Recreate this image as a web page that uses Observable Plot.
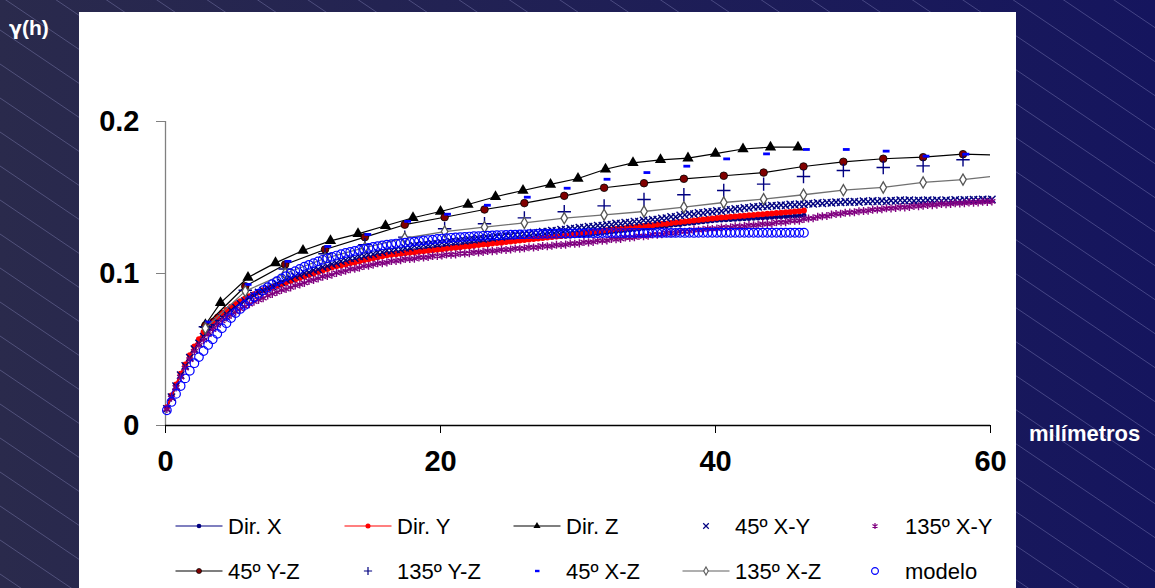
<!DOCTYPE html>
<html><head><meta charset="utf-8">
<script src="https://cdn.jsdelivr.net/npm/d3@7"></script>
<script src="https://cdn.jsdelivr.net/npm/@observablehq/plot@0.6"></script>
<style>
html,body{margin:0;padding:0;}
body{width:1155px;height:588px;overflow:hidden;position:relative;font-family:"Liberation Sans",Arial,sans-serif;
background: linear-gradient(to right, #2a2a4c, #15155e);}
#hatch{position:absolute;left:0;top:0;}
#panel{position:absolute;left:79px;top:12px;width:937px;height:576px;background:#fff;}
#chart{position:absolute;left:79px;top:12px;width:937px;}
.lab{position:absolute;color:#fff;font-weight:bold;line-height:1;white-space:nowrap;}
.leg{position:absolute;font-size:22px;color:#000;line-height:1;white-space:nowrap;}
.sw{position:absolute;}
</style></head><body>
<svg id="hatch" width="1155" height="588"></svg>
<div id="panel"></div>
<div id="chart"></div>
<div class="lab" style="left:9px;top:17px;font-size:21px;"><span style="font-family:'DejaVu Sans';font-size:19px;">γ</span>(h)</div>
<div class="lab" style="left:1029px;top:423px;font-size:22px;">milímetros</div>
<div id="legend"></div>
<script>
// ---- data ----
const lagStart = 0.1;      // first lag of the dense series (mm)
const lagStep = 1 / 3;     // lag spacing of the dense series (mm)

const dirX = [0.0110,0.0185,0.0258,0.0330,0.0392,0.0452,0.0510,0.0556,0.0600,0.0640,0.0671,0.0701,0.0730,0.0750,0.0770,0.0790,0.0810,0.0830,0.0850,0.0863,0.0877,0.0890,0.0903,0.0917,0.0930,0.0940,0.0950,0.0960,0.0970,0.0980,0.0990,0.1000,0.1010,0.1020,0.1030,0.1040,0.1050,0.1057,0.1063,0.1070,0.1077,0.1083,0.1090,0.1097,0.1103,0.1110,0.1117,0.1123,0.1130,0.1133,0.1137,0.1140,0.1143,0.1147,0.1150,0.1153,0.1157,0.1160,0.1163,0.1167,0.1170,0.1173,0.1177,0.1180,0.1183,0.1187,0.1190,0.1193,0.1197,0.1200,0.1203,0.1207,0.1210,0.1213,0.1217,0.1220,0.1222,0.1223,0.1225,0.1227,0.1228,0.1230,0.1233,0.1237,0.1240,0.1242,0.1243,0.1245,0.1247,0.1248,0.1250,0.1253,0.1257,0.1260,0.1263,0.1267,0.1270,0.1273,0.1277,0.1280,0.1283,0.1287,0.1290,0.1293,0.1297,0.1300,0.1303,0.1307,0.1310,0.1313,0.1317,0.1320,0.1323,0.1327,0.1330,0.1333,0.1337,0.1340,0.1343,0.1347,0.1350,0.1352,0.1353,0.1355,0.1357,0.1358,0.1360,0.1362,0.1363,0.1365,0.1367,0.1368,0.1370,0.1372,0.1373,0.1375,0.1377,0.1378,0.1380,0.1384];

const dirY = [0.0120,0.0197,0.0270,0.0340,0.0402,0.0462,0.0520,0.0568,0.0615,0.0660,0.0688,0.0715,0.0740,0.0760,0.0781,0.0800,0.0817,0.0834,0.0850,0.0864,0.0877,0.0890,0.0900,0.0910,0.0920,0.0930,0.0940,0.0950,0.0960,0.0970,0.0980,0.0990,0.1000,0.1010,0.1020,0.1030,0.1040,0.1047,0.1053,0.1060,0.1067,0.1073,0.1080,0.1087,0.1093,0.1100,0.1107,0.1113,0.1120,0.1123,0.1127,0.1130,0.1133,0.1137,0.1140,0.1143,0.1147,0.1150,0.1153,0.1157,0.1160,0.1163,0.1167,0.1170,0.1173,0.1177,0.1180,0.1183,0.1187,0.1190,0.1193,0.1197,0.1200,0.1203,0.1207,0.1210,0.1213,0.1217,0.1220,0.1223,0.1227,0.1230,0.1233,0.1237,0.1240,0.1243,0.1247,0.1250,0.1255,0.1260,0.1265,0.1268,0.1272,0.1275,0.1278,0.1282,0.1285,0.1288,0.1292,0.1295,0.1298,0.1302,0.1305,0.1308,0.1312,0.1315,0.1318,0.1322,0.1325,0.1328,0.1332,0.1335,0.1338,0.1342,0.1345,0.1348,0.1352,0.1355,0.1358,0.1362,0.1365,0.1368,0.1370,0.1373,0.1375,0.1378,0.1380,0.1383,0.1385,0.1388,0.1390,0.1393,0.1395,0.1398,0.1400,0.1403,0.1405,0.1408,0.1410,0.1414];

const xy45 = [0.0110,0.0187,0.0259,0.0331,0.0392,0.0447,0.0502,0.0540,0.0584,0.0618,0.0653,0.0680,0.0712,0.0733,0.0759,0.0778,0.0802,0.0819,0.0842,0.0855,0.0876,0.0888,0.0905,0.0915,0.0932,0.0942,0.0959,0.0968,0.0982,0.0989,0.1002,0.1008,0.1022,0.1028,0.1042,0.1048,0.1062,0.1068,0.1082,0.1088,0.1099,0.1101,0.1112,0.1115,0.1125,0.1128,0.1139,0.1141,0.1152,0.1151,0.1159,0.1158,0.1169,0.1171,0.1182,0.1181,0.1189,0.1188,0.1195,0.1195,0.1202,0.1201,0.1209,0.1208,0.1215,0.1215,0.1222,0.1221,0.1229,0.1228,0.1235,0.1235,0.1242,0.1241,0.1249,0.1248,0.1255,0.1255,0.1262,0.1261,0.1269,0.1268,0.1275,0.1275,0.1282,0.1281,0.1289,0.1288,0.1295,0.1295,0.1302,0.1301,0.1309,0.1308,0.1315,0.1315,0.1322,0.1321,0.1329,0.1328,0.1335,0.1335,0.1342,0.1341,0.1349,0.1348,0.1355,0.1355,0.1362,0.1364,0.1372,0.1373,0.1382,0.1385,0.1392,0.1391,0.1399,0.1398,0.1405,0.1405,0.1412,0.1411,0.1419,0.1418,0.1425,0.1425,0.1432,0.1431,0.1439,0.1438,0.1443,0.1442,0.1447,0.1445,0.1450,0.1448,0.1454,0.1452,0.1457,0.1455,0.1460,0.1458,0.1464,0.1462,0.1467,0.1465,0.1470,0.1468,0.1472,0.1469,0.1472,0.1470,0.1476,0.1473,0.1477,0.1474,0.1478,0.1475,0.1480,0.1478,0.1482,0.1479,0.1482,0.1478,0.1481,0.1479,0.1483,0.1480,0.1482,0.1478,0.1483,0.1480,0.1484,0.1481,0.1485,0.1482,0.1486,0.1484,0.1487,0.1485,0.1487];

const xy135 = [0.0108,0.0182,0.0251,0.0318,0.0378,0.0433,0.0488,0.0527,0.0562,0.0598,0.0631,0.0659,0.0688,0.0711,0.0728,0.0748,0.0768,0.0782,0.0798,0.0815,0.0826,0.0838,0.0855,0.0866,0.0878,0.0891,0.0898,0.0908,0.0921,0.0928,0.0938,0.0951,0.0958,0.0968,0.0979,0.0984,0.0992,0.1004,0.1010,0.1018,0.1029,0.1031,0.1038,0.1049,0.1051,0.1058,0.1067,0.1068,0.1073,0.1082,0.1083,0.1088,0.1096,0.1095,0.1098,0.1106,0.1105,0.1108,0.1116,0.1115,0.1118,0.1125,0.1123,0.1126,0.1133,0.1131,0.1134,0.1141,0.1139,0.1142,0.1149,0.1147,0.1150,0.1157,0.1155,0.1158,0.1165,0.1163,0.1166,0.1173,0.1171,0.1174,0.1181,0.1179,0.1182,0.1189,0.1187,0.1190,0.1197,0.1196,0.1198,0.1207,0.1205,0.1208,0.1217,0.1215,0.1218,0.1227,0.1225,0.1228,0.1237,0.1235,0.1238,0.1247,0.1245,0.1248,0.1257,0.1255,0.1258,0.1267,0.1265,0.1268,0.1277,0.1275,0.1278,0.1287,0.1285,0.1288,0.1295,0.1293,0.1296,0.1303,0.1301,0.1304,0.1311,0.1309,0.1312,0.1319,0.1317,0.1320,0.1327,0.1325,0.1328,0.1337,0.1337,0.1338,0.1347,0.1347,0.1348,0.1358,0.1362,0.1363,0.1373,0.1377,0.1378,0.1388,0.1392,0.1393,0.1400,0.1401,0.1403,0.1410,0.1411,0.1413,0.1420,0.1421,0.1423,0.1429,0.1428,0.1431,0.1436,0.1435,0.1438,0.1444,0.1443,0.1446,0.1451,0.1450,0.1453,0.1458,0.1456,0.1458,0.1463,0.1461,0.1463,0.1468,0.1466,0.1468,0.1473,0.1471,0.1474];

const modelo = [0.0100,0.0155,0.0208,0.0260,0.0310,0.0360,0.0410,0.0450,0.0490,0.0530,0.0567,0.0603,0.0640,0.0673,0.0707,0.0740,0.0767,0.0793,0.0820,0.0843,0.0867,0.0890,0.0910,0.0930,0.0950,0.0967,0.0983,0.1000,0.1015,0.1030,0.1045,0.1057,0.1068,0.1080,0.1090,0.1100,0.1110,0.1118,0.1127,0.1135,0.1142,0.1148,0.1155,0.1162,0.1168,0.1175,0.1180,0.1185,0.1190,0.1193,0.1197,0.1200,0.1203,0.1207,0.1210,0.1213,0.1217,0.1220,0.1223,0.1227,0.1230,0.1232,0.1235,0.1237,0.1239,0.1241,0.1243,0.1245,0.1246,0.1248,0.1249,0.1251,0.1252,0.1253,0.1254,0.1255,0.1256,0.1257,0.1258,0.1259,0.1259,0.1260,0.1261,0.1261,0.1262,0.1262,0.1263,0.1263,0.1263,0.1264,0.1264,0.1264,0.1265,0.1265,0.1265,0.1266,0.1266,0.1266,0.1266,0.1266,0.1266,0.1267,0.1267,0.1267,0.1267,0.1267,0.1267,0.1267,0.1267,0.1267,0.1267,0.1267,0.1268,0.1267,0.1268,0.1267,0.1268,0.1268,0.1268,0.1268,0.1268,0.1268,0.1268,0.1268,0.1268,0.1268,0.1268,0.1268,0.1268,0.1268,0.1268,0.1268,0.1268,0.1268,0.1268,0.1268,0.1268,0.1268,0.1268,0.1268];

// sparse series
const dirZLags = [2.9,4,6,8,10,12,14,16,18,20,22,24,26,28,30,32,34,36,38,40,42,44,46];
const dirZ = [0.0663,0.0807,0.0974,0.1070,0.1151,0.1215,0.1261,0.1314,0.1367,0.1408,0.1454,0.1505,0.1546,0.1586,0.1625,0.1686,0.1728,0.1748,0.1759,0.1789,0.1819,0.1831,0.1831];

const diagLags = [2.9,5.8,8.7,11.6,14.5,17.4,20.3,23.2,26.1,29.0,31.9,34.8,37.7,40.6,43.5,46.4,49.3,52.2,55.1,58.0,60.9];
const yz45 = [0.0658,0.0916,0.1059,0.1158,0.1239,0.1321,0.1370,0.1421,0.1463,0.1511,0.1564,0.1594,0.1623,0.1643,0.1664,0.1704,0.1735,0.1755,0.1765,0.1785,0.1779];
const yz135 = [0.0650,0.0890,0.1030,0.1130,0.1190,0.1239,0.1294,0.1327,0.1366,0.1406,0.1445,0.1487,0.1518,0.1546,0.1588,0.1638,0.1678,0.1697,0.1708,0.1748];
const xz45 = [0.0680,0.0928,0.1080,0.1178,0.1257,0.1343,0.1390,0.1449,0.1502,0.1561,0.1620,0.1664,0.1706,0.1754,0.1787,0.1816,0.1816,0.1805,0.1772,0.1785];
const xz135 = [0.0640,0.0884,0.1000,0.1100,0.1170,0.1232,0.1276,0.1305,0.1333,0.1364,0.1386,0.1408,0.1436,0.1467,0.1489,0.1518,0.1548,0.1566,0.1599,0.1618,0.1646];

const xTicks = [0, 20, 40, 60];
const yTicks = [0, 0.1, 0.2];

const seriesNames = ["Dir. X","Dir. Y","Dir. Z","45º X-Y","135º X-Y","45º Y-Z","135º Y-Z","45º X-Z","135º X-Z","modelo"];

// ---- background hatching (decoration) ----
(function () {
  const svg = d3.select("#hatch");
  const slope = 0.675, gap = 34;
  for (let c = -820; c < 600; c += gap) {
    svg.append("line").attr("x1", 0).attr("y1", c).attr("x2", 1155).attr("y2", c + slope * 1155)
      .attr("stroke", "#9a9ad0").attr("stroke-opacity", 0.45).attr("stroke-width", 0.8);
  }
})();

// ---- build tables ----
const dense = vals => vals.map((y, i) => ({x: lagStart + i * lagStep, y}));
const sparse = (xs, ys) => ys.map((y, i) => ({x: xs[i], y}));

const dX = dense(dirX), dY = dense(dirY), dXY45 = dense(xy45), dXY135 = dense(xy135), dM = dense(modelo);
const dZ = sparse(dirZLags, dirZ);
const dYZ45 = sparse(diagLags, yz45), dYZ135 = sparse(diagLags, yz135);
const dXZ45 = sparse(diagLags, xz45), dXZ135 = sparse(diagLags, xz135);

const dashSymbol = {draw(ctx) { ctx.moveTo(-0.5, -1.4); ctx.lineTo(6.3, -1.4); ctx.lineTo(6.3, 1.4); ctx.lineTo(-0.5, 1.4); ctx.closePath(); }};

const FONT = "'Liberation Sans', Arial, sans-serif";

const chart = Plot.plot({
  width: 937, height: 470,
  marginLeft: 86, marginRight: 26, marginTop: 109, marginBottom: 57,
  x: {domain: [0, 60]},
  y: {domain: [0, 0.2]},
  style: {background: "transparent", fontFamily: FONT, color: "#000", maxWidth: "none"},
  marks: [
    Plot.ruleX([0], {y1: 0, y2: 0.2, stroke: "#808080", strokeWidth: 1.3}),
    Plot.ruleY([0], {x1: 0, x2: 60, stroke: "#000", strokeWidth: 1.3}),
    Plot.axisY({ticks: yTicks, tickFormat: d => String(d), tickSize: 9, tickPadding: 17, fontSize: 29, fontWeight: "bold", stroke: "#808080", label: null}),
    Plot.axisX({ticks: xTicks, tickFormat: d => String(d), tickSize: 8, tickPadding: 17, fontSize: 29, fontWeight: "bold", stroke: "#000", label: null}),
    // Dir. X
    Plot.line(dX, {x: "x", y: "y", stroke: "#000080", strokeWidth: 1.5}),
    Plot.dot(dX, {x: "x", y: "y", r: 2.5, fill: "#000080"}),
    // Dir. Y
    Plot.line(dY, {x: "x", y: "y", stroke: "#ff0000", strokeWidth: 2}),
    Plot.dot(dY, {x: "x", y: "y", r: 3, fill: "#ff0000"}),
    // Dir. Z
    Plot.line(dZ, {x: "x", y: "y", stroke: "#000", strokeWidth: 1.2}),
    Plot.dot(dZ, {x: "x", y: "y", symbol: "triangle", r: 4.2, fill: "#000"}),
    // 45º X-Y
    Plot.dot(dXY45, {x: "x", y: "y", symbol: "times", r: 3.4, stroke: "#000080", strokeWidth: 1.4}),
    // 135º X-Y
    Plot.dot(dXY135, {x: "x", y: "y", symbol: "asterisk", r: 3.8, stroke: "#800080", strokeWidth: 1.4}),
    // 45º Y-Z
    Plot.line(dYZ45, {x: "x", y: "y", stroke: "#000", strokeWidth: 1.2, clip: true}),
    Plot.dot(dYZ45, {x: "x", y: "y", r: 3.8, fill: "#800000", stroke: "#000", strokeWidth: 0.8, clip: true}),
    // 135º Y-Z
    Plot.dot(dYZ135, {x: "x", y: "y", symbol: "plus", r: 4.4, stroke: "#000080", strokeWidth: 1.4}),
    // 45º X-Z
    Plot.dot(dXZ45, {x: "x", y: "y", symbol: dashSymbol, r: 3, fill: "#0000ff", stroke: "none"}),
    // 135º X-Z
    Plot.line(dXZ135, {x: "x", y: "y", stroke: "#707070", strokeWidth: 1.3, clip: true}),
    Plot.dot(dXZ135, {x: "x", y: "y", symbol: "diamond", r: 3.4, fill: "#fff", stroke: "#555", strokeWidth: 1.3, clip: true}),
    // modelo
    Plot.dot(dM, {x: "x", y: "y", r: 4.3, fill: "none", stroke: "#0000ff", strokeWidth: 1.2})
  ]
});
document.getElementById("chart").appendChild(chart);

// ---- legend ----
const legendItems = [
  {name: seriesNames[0], line: "#000080", sym: d3.symbolCircle, size: 17, fill: "#000080"},
  {name: seriesNames[1], line: "#ff0000", sym: d3.symbolCircle, size: 20, fill: "#ff0000"},
  {name: seriesNames[2], line: "#000", sym: d3.symbolTriangle, size: 22, fill: "#000"},
  {name: seriesNames[3], sym: d3.symbolTimes, size: 22, stroke: "#000080"},
  {name: seriesNames[4], sym: d3.symbolAsterisk, size: 24, stroke: "#800080"},
  {name: seriesNames[5], line: "#000", sym: d3.symbolCircle, size: 20, fill: "#800000", stroke: "#000", sw: 0.7},
  {name: seriesNames[6], sym: d3.symbolPlus, size: 24, stroke: "#000080"},
  {name: seriesNames[7], sym: {draw(c){ c.moveTo(-2,-1.2); c.lineTo(2.5,-1.2); c.lineTo(2.5,1.2); c.lineTo(-2,1.2); c.closePath(); }}, size: 10, fill: "#0000ff"},
  {name: seriesNames[8], line: "#606060", sym: d3.symbolDiamond, size: 18, fill: "#fff", stroke: "#606060"},
  {name: seriesNames[9], sym: d3.symbolCircle, size: 36, fill: "none", stroke: "#0000ff"}
];
const colCenters = [198.5, 367.5, 536.5, 706, 874.5];
const colText = [228, 397, 566, 735, 905];
const rowCenters = [526, 571];
const legend = document.getElementById("legend");
legendItems.forEach((it, i) => {
  const row = Math.floor(i / 5), col = i % 5;
  const svg = d3.create("svg").attr("width", 50).attr("height", 20).attr("class", "sw")
    .style("left", (colCenters[col] - 25) + "px").style("top", (rowCenters[row] - 10) + "px");
  if (it.line) svg.append("line").attr("x1", 1.5).attr("x2", 48.5).attr("y1", 10).attr("y2", 10).attr("stroke", it.line).attr("stroke-width", 1.2);
  svg.append("path").attr("transform", "translate(25,10)").attr("d", d3.symbol(it.sym, it.size)())
    .attr("fill", it.fill || "none").attr("stroke", it.stroke || "none").attr("stroke-width", it.sw || 1.2);
  legend.appendChild(svg.node());
  const t = document.createElement("div");
  t.className = "leg";
  t.textContent = it.name;
  t.style.left = colText[col] + "px";
  t.style.top = (rowCenters[row] - 10.5) + "px";
  legend.appendChild(t);
});
</script>
</body></html>
